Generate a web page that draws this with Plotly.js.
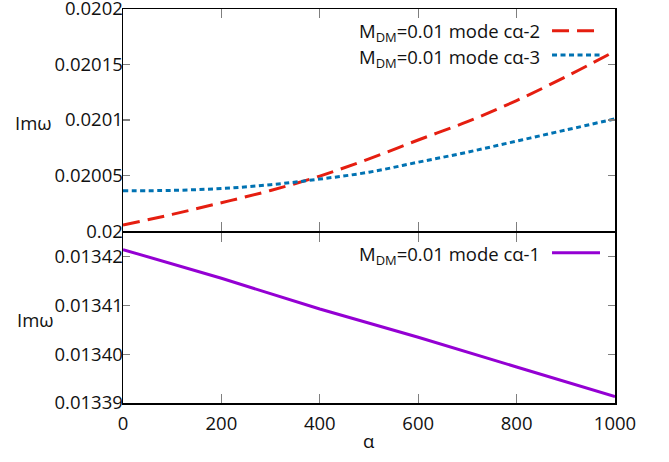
<!DOCTYPE html>
<html>
<head>
<meta charset="utf-8">
<script src="https://cdn.plot.ly/plotly-3.0.1.min.js"></script>
<style>
  html, body { margin: 0; padding: 0; background: #ffffff; }
  #chart { width: 669px; height: 462px; }
</style>
</head>
<body>
<div id="chart"></div>
<script>
// Coupling parameter alpha and the imaginary parts of the mode frequencies
const alphaFine = [0, 100, 200, 300, 400, 500, 600, 700, 800, 900, 1000];
const imwMode2 = [0.0200054, 0.0200150, 0.0200255, 0.0200365, 0.0200495, 0.0200650,
                  0.0200820, 0.0200985, 0.0201175, 0.0201390, 0.0201620];
const imwMode3 = [0.0200363, 0.0200366, 0.0200383, 0.0200417, 0.0200468, 0.0200530,
                  0.0200620, 0.0200710, 0.0200810, 0.0200910, 0.0201010];

const alphaCoarse = [0, 200, 400, 600, 800, 1000];
const imwMode1 = [0.0134215, 0.0134156, 0.0134093, 0.0134035, 0.0133974, 0.0133913];

const xTicks = [0, 200, 400, 600, 800, 1000];
const topTicks = [0.02, 0.02005, 0.0201, 0.02015, 0.0202];
const topTickText = ['0.02', '0.02005', '0.0201', '0.02015', '0.0202'];
const bottomTicks = [0.01339, 0.01340, 0.01341, 0.01342];
const bottomTickText = ['0.01339', '0.01340', '0.01341', '0.01342'];

const labelMode1 = 'M<sub>DM</sub>=0.01 mode cα-1';
const labelMode2 = 'M<sub>DM</sub>=0.01 mode cα-2';
const labelMode3 = 'M<sub>DM</sub>=0.01 mode cα-3';

const RED = '#e51e10', BLUE = '#0072b2', PURPLE = '#9400d3';
const FONT = 'Open Sans';
const FS = 18.5;
const LW = 1.5;

const traces = [
  { x: alphaFine, y: imwMode2, xaxis: 'x', yaxis: 'y', mode: 'lines', name: labelMode2,
    line: { color: RED, width: 3, dash: '17px,8px', shape: 'spline' } },
  { x: alphaFine, y: imwMode3, xaxis: 'x', yaxis: 'y', mode: 'lines', name: labelMode3,
    line: { color: BLUE, width: 3, dash: '5px,3.5px', shape: 'spline' } },
  { x: alphaCoarse, y: imwMode1, xaxis: 'x2', yaxis: 'y2', mode: 'lines', name: labelMode1,
    line: { color: PURPLE, width: 3 } }
];

const axisCommon = {
  showline: true, linecolor: '#000000', linewidth: LW, mirror: 'ticks',
  ticks: 'inside', tickcolor: '#7f7f7f', tickwidth: 1.2,
  showgrid: false, zeroline: false, ticklabeloverflow: 'allow',
  tickfont: { family: FONT, size: FS, color: '#111111' }
};

// panel split in paper units; the lower panel is pulled down by one line width
// so that the two border lines at the join fall on the same pixels
const split = 0.4365;
const lowerTop = split - LW / 394;

const layout = {
  width: 669, height: 462,
  margin: { l: 123, r: 54, t: 9, b: 59 },
  paper_bgcolor: '#ffffff', plot_bgcolor: '#ffffff',
  showlegend: false,
  font: { family: FONT, size: FS, color: '#111111' },
  xaxis: Object.assign({}, axisCommon, {
    anchor: 'y', range: [0, 1000], tickvals: xTicks, showticklabels: false, ticklen: 9
  }),
  yaxis: Object.assign({}, axisCommon, {
    domain: [split, 1], anchor: 'x', range: [0.02, 0.0202000001],
    tickvals: topTicks, ticktext: topTickText, ticklen: 7, ticklabelstandoff: -5
  }),
  xaxis2: Object.assign({}, axisCommon, {
    anchor: 'y2', matches: 'x', range: [0, 1000], tickvals: xTicks, ticklen: 9,
    ticklabelstandoff: 3
  }),
  yaxis2: Object.assign({}, axisCommon, {
    domain: [0, lowerTop], anchor: 'x2', range: [0.01339, 0.013425],
    tickvals: bottomTicks, ticktext: bottomTickText, ticklen: 7, ticklabelstandoff: -5
  }),
  annotations: [
    { text: 'Imω', xref: 'paper', yref: 'paper', x: -0.181, y: 0.7114,
      xanchor: 'center', yanchor: 'middle', showarrow: false, font: { family: FONT, size: FS } },
    { text: 'Imω', xref: 'paper', yref: 'paper', x: -0.177, y: 0.2107,
      xanchor: 'center', yanchor: 'middle', showarrow: false, font: { family: FONT, size: FS } },
    { text: 'α', xref: 'x2', yref: 'paper', x: 500, y: -0.094,
      xanchor: 'center', yanchor: 'middle', showarrow: false, font: { family: FONT, size: FS } },
    { text: labelMode2, xref: 'paper', yref: 'paper', x: 0.8516, y: 0.9404,
      xanchor: 'right', yanchor: 'middle', showarrow: false, font: { family: FONT, size: FS } },
    { text: labelMode3, xref: 'paper', yref: 'paper', x: 0.8516, y: 0.8756,
      xanchor: 'right', yanchor: 'middle', showarrow: false, font: { family: FONT, size: FS } },
    { text: labelMode1, xref: 'paper', yref: 'paper', x: 0.8516, y: 0.3756,
      xanchor: 'right', yanchor: 'middle', showarrow: false, font: { family: FONT, size: FS } }
  ],
  shapes: [
    { type: 'line', xref: 'paper', yref: 'paper', x0: 0.872, x1: 0.9695, y0: 0.945, y1: 0.945,
      line: { color: RED, width: 3, dash: '17px,8px' } },
    { type: 'line', xref: 'paper', yref: 'paper', x0: 0.872, x1: 0.9695, y0: 0.8832, y1: 0.8832,
      line: { color: BLUE, width: 3, dash: '5px,3.5px' } },
    { type: 'line', xref: 'paper', yref: 'paper', x0: 0.872, x1: 0.9695, y0: 0.3815, y1: 0.3815,
      line: { color: PURPLE, width: 3 } }
  ]
};

Plotly.newPlot('chart', traces, layout, { displayModeBar: false, staticPlot: true });
</script>
</body>
</html>
